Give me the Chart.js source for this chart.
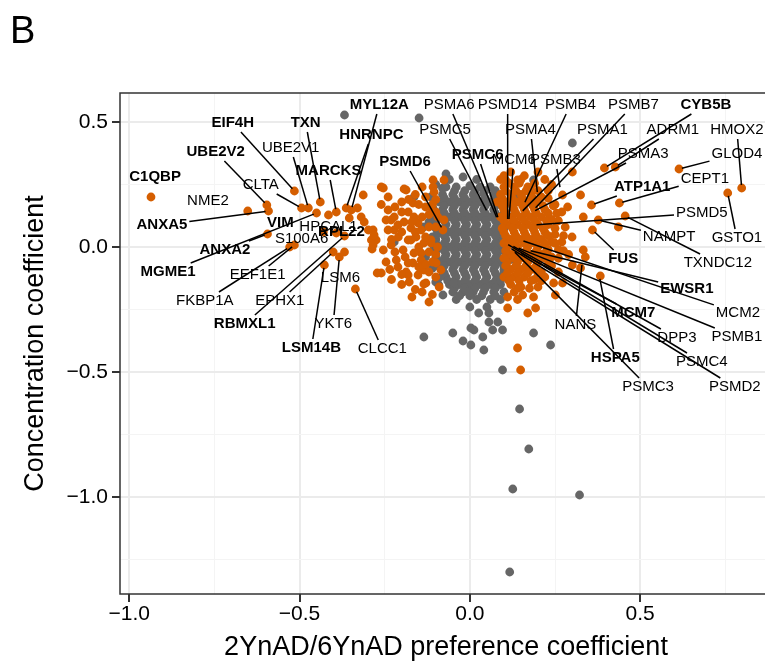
<!DOCTYPE html>
<html>
<head>
<meta charset="utf-8">
<script src="https://cdn.jsdelivr.net/npm/chart.js@4.4.0/dist/chart.umd.min.js"></script>
<style>
  html, body { margin: 0; padding: 0; background: #fff; overflow: hidden; }
  #wrap { position: relative; width: 765px; height: 666px; overflow: hidden; }
  #chart { position: absolute; left: 0; top: 0; width: 800px; height: 666px; }
</style>
</head>
<body>
<div id="wrap"><canvas id="chart" width="800" height="666"></canvas></div>
<script>
// ---------------------------
// Panel B — preference vs concentration scatter
// ---------------------------

const FONT = '"Liberation Sans", Arial, sans-serif';
const ORANGE = '#D55E00';
const GREY = '#666666';
const DOT = 4.4;

// axis ranges
const X_MIN = -1.027, X_MAX = 0.887;
const Y_MIN = -1.388, Y_MAX = 0.616;
const X_TITLE = '2YnAD/6YnAD preference coefficient';
const Y_TITLE = 'Concentration coefficient';

// grey points (not significant)
const greyOutliers = [
  [-0.368, 0.528], [-0.149, 0.516], [0.301, 0.416], [-0.07, 0.292], [-0.164, 0.2],
  [-0.222, 0.02], [-0.135, 0.08], [0.187, 0.268], [-0.12, 0.1], [-0.11, 0.04],
  [-0.13, -0.04], [-0.115, 0.2], [-0.1, 0.25], [0.1, 0.05], [0.12, -0.05], [0.14, 0.2], [0.13, 0.1],
  [-0.108, 0.155], [-0.112, 0.115], [-0.105, -0.005], [-0.11, -0.085], [-0.1, -0.14], [-0.08, 0.235]
];
const greyCore = [
  [-0.06, 0.27], [-0.02, 0.28], [0.02, 0.27],
  [-0.07, 0.24], [-0.04, 0.24], [0.0, 0.245], [0.03, 0.24], [0.06, 0.24],
  [-0.08, 0.21], [-0.05, 0.21], [-0.02, 0.21], [0.01, 0.21], [0.04, 0.215], [0.07, 0.21],
  [-0.09, 0.18], [-0.06, 0.18], [-0.03, 0.18], [0.0, 0.18], [0.03, 0.18], [0.06, 0.18], [0.09, 0.18],
  [-0.08, 0.15], [-0.05, 0.15], [-0.02, 0.15], [0.01, 0.15], [0.04, 0.15], [0.07, 0.15], [0.1, 0.15],
  [-0.09, 0.12], [-0.06, 0.12], [-0.03, 0.12], [0.0, 0.12], [0.03, 0.12], [0.06, 0.12], [0.09, 0.12],
  [-0.1, 0.09], [-0.07, 0.09], [-0.04, 0.09], [-0.01, 0.09], [0.02, 0.09], [0.05, 0.09], [0.08, 0.09], [0.1, 0.09],
  [-0.09, 0.06], [-0.06, 0.06], [-0.03, 0.06], [0.0, 0.06], [0.03, 0.06], [0.06, 0.06], [0.09, 0.06],
  [-0.1, 0.03], [-0.07, 0.03], [-0.04, 0.03], [-0.01, 0.03], [0.02, 0.03], [0.05, 0.03], [0.08, 0.03], [0.1, 0.03],
  [-0.09, 0.0], [-0.06, 0.0], [-0.03, 0.0], [0.0, 0.0], [0.03, 0.0], [0.06, 0.0], [0.09, 0.0],
  [-0.1, -0.03], [-0.07, -0.03], [-0.04, -0.03], [-0.01, -0.03], [0.02, -0.03], [0.05, -0.03], [0.08, -0.03], [0.11, -0.03],
  [-0.09, -0.06], [-0.06, -0.06], [-0.03, -0.06], [0.0, -0.06], [0.03, -0.06], [0.06, -0.06], [0.09, -0.06],
  [-0.08, -0.09], [-0.05, -0.09], [-0.02, -0.09], [0.01, -0.09], [0.04, -0.09], [0.07, -0.09], [0.1, -0.09],
  [-0.07, -0.12], [-0.04, -0.12], [-0.01, -0.12], [0.02, -0.12], [0.05, -0.12], [0.08, -0.12], [0.11, -0.12],
  [-0.06, -0.15], [-0.03, -0.15], [0.0, -0.15], [0.03, -0.15], [0.06, -0.15], [0.09, -0.15],
  [-0.05, -0.18], [-0.02, -0.18], [0.01, -0.18], [0.04, -0.18], [0.07, -0.18], [0.1, -0.18],
  [-0.04, -0.21], [0.02, -0.21], [0.06, -0.21], [0.09, -0.21],
  [0.0, -0.24], [0.05, -0.24]
];
const greyFill = [
  [-0.045, 0.225], [-0.015, 0.225], [0.015, 0.225], [0.045, 0.225], [0.075, 0.225],
  [-0.075, 0.195], [-0.045, 0.195], [-0.015, 0.195], [0.015, 0.195], [0.045, 0.195], [0.075, 0.195],
  [-0.075, 0.165], [-0.045, 0.165], [-0.015, 0.165], [0.015, 0.165], [0.045, 0.165], [0.075, 0.165], [0.095, 0.165],
  [-0.1, 0.135], [-0.075, 0.135], [-0.045, 0.135], [-0.015, 0.135], [0.015, 0.135], [0.045, 0.135], [0.075, 0.135], [0.1, 0.135],
  [-0.1, 0.105], [-0.075, 0.105], [-0.045, 0.105], [-0.015, 0.105], [0.015, 0.105], [0.045, 0.105], [0.075, 0.105], [0.1, 0.105],
  [-0.1, 0.075], [-0.075, 0.075], [-0.045, 0.075], [-0.015, 0.075], [0.015, 0.075], [0.045, 0.075], [0.075, 0.075], [0.1, 0.075],
  [-0.1, 0.045], [-0.075, 0.045], [-0.045, 0.045], [-0.015, 0.045], [0.015, 0.045], [0.045, 0.045], [0.075, 0.045], [0.1, 0.045],
  [-0.1, 0.015], [-0.075, 0.015], [-0.045, 0.015], [-0.015, 0.015], [0.015, 0.015], [0.045, 0.015], [0.075, 0.015], [0.1, 0.015],
  [-0.1, -0.015], [-0.075, -0.015], [-0.045, -0.015], [-0.015, -0.015], [0.015, -0.015], [0.045, -0.015], [0.075, -0.015], [0.1, -0.015],
  [-0.1, -0.045], [-0.075, -0.045], [-0.045, -0.045], [-0.015, -0.045], [0.015, -0.045], [0.045, -0.045], [0.075, -0.045], [0.1, -0.045],
  [-0.1, -0.075], [-0.075, -0.075], [-0.045, -0.075], [-0.015, -0.075], [0.015, -0.075], [0.045, -0.075], [0.075, -0.075], [0.1, -0.075],
  [-0.075, -0.105], [-0.045, -0.105], [-0.015, -0.105], [0.015, -0.105], [0.045, -0.105], [0.075, -0.105], [0.1, -0.105],
  [-0.065, -0.135], [-0.045, -0.135], [-0.015, -0.135], [0.015, -0.135], [0.045, -0.135], [0.075, -0.135], [0.09, -0.135],
  [-0.045, -0.165], [-0.015, -0.165], [0.015, -0.165], [0.045, -0.165], [0.075, -0.165],
  [-0.03, -0.195], [0.0, -0.195], [0.035, -0.195], [0.075, -0.195]
];
const greyTail = [
  [-0.079, -0.192], [-0.091, -0.152], [-0.091, -0.124], [-0.047, -0.144], [-0.003, -0.18],
  [0.026, -0.264], [0.056, -0.264], [0.056, -0.3], [0.082, -0.3], [0.003, -0.324], [0.012, -0.332],
  [0.067, -0.332], [0.096, -0.332], [-0.05, -0.344], [-0.02, -0.376], [0.003, -0.392], [0.041, -0.412],
  [0.038, -0.36], [-0.135, -0.36], [0.187, -0.344], [0.237, -0.392], [0.096, -0.492], [0.146, -0.648],
  [0.173, -0.808], [0.126, -0.968], [0.322, -0.992], [0.117, -1.3]
];

// orange points (significant)
const orangeFar = [
  [-0.936, 0.2], [-0.652, 0.144], [-0.596, 0.168], [-0.591, 0.144], [-0.594, 0.052],
  [-0.515, 0.224], [-0.494, 0.156], [-0.474, 0.156], [-0.439, 0.18], [-0.45, 0.136],
  [-0.415, 0.128], [-0.392, 0.14], [-0.363, 0.156], [-0.348, 0.148], [-0.33, 0.156],
  [-0.313, 0.208], [-0.354, 0.116], [-0.319, 0.12], [-0.31, 0.1], [-0.298, 0.068],
  [-0.284, 0.068], [-0.289, 0.028], [-0.275, 0.028], [-0.287, -0.008], [-0.515, 0.008],
  [-0.529, 0.0], [-0.401, -0.02], [-0.368, -0.02], [-0.383, -0.04], [-0.427, -0.072],
  [-0.392, 0.056], [-0.43, 0.06], [-0.368, 0.044], [-0.336, -0.168], [-0.281, 0.048], [-0.284, 0.008]
];
const orangeLeft = [
  [-0.26, 0.24], [-0.24, 0.148], [-0.231, 0.108], [-0.187, 0.228], [-0.108, 0.268], [-0.167, 0.176],
  [-0.164, 0.12], [-0.114, 0.16], [-0.094, 0.12], [-0.222, 0.068], [-0.173, 0.028], [-0.114, 0.016],
  [-0.143, -0.024], [-0.181, -0.064], [-0.135, -0.092], [-0.099, -0.064], [-0.076, 0.108],
  [-0.254, 0.236], [-0.193, 0.232], [-0.246, 0.108], [-0.24, 0.068], [-0.222, 0.12], [-0.211, 0.088],
  [-0.181, 0.14], [-0.193, 0.1], [-0.173, 0.076], [-0.152, 0.096], [-0.254, -0.012], [-0.231, 0.008],
  [-0.216, -0.052], [-0.196, -0.012], [-0.181, 0.028], [-0.164, -0.024], [-0.158, 0.04], [-0.143, 0.068],
  [-0.135, 0.016], [-0.114, 0.028], [-0.143, -0.052], [-0.167, -0.064], [-0.211, -0.08], [-0.181, -0.112],
  [-0.152, -0.112], [-0.129, -0.144], [-0.272, -0.104], [-0.108, 0.24], [-0.187, -0.1], [-0.178, -0.14],
  [-0.135, -0.148], [-0.085, -0.092], [-0.26, -0.104], [-0.246, -0.06], [-0.13, 0.2], [-0.15, 0.17],
  [-0.1, 0.19], [-0.12, 0.13], [-0.2, 0.18], [-0.21, 0.04], [-0.12, -0.02], [-0.1, -0.12],
  [-0.09, -0.16], [-0.11, -0.19], [-0.16, -0.17], [-0.2, -0.15], [-0.23, -0.13], [-0.12, 0.08],
  [-0.1, -0.03], [-0.13, -0.07], [-0.076, 0.268], [-0.079, 0.068],
  [-0.24, 0.2], [-0.22, 0.16], [-0.2, 0.14], [-0.18, 0.19], [-0.16, 0.21], [-0.14, 0.24], [-0.13, 0.16],
  [-0.11, 0.17], [-0.1, 0.14], [-0.14, 0.12], [-0.16, 0.06], [-0.2, 0.06], [-0.23, 0.03], [-0.19, -0.04],
  [-0.15, -0.08], [-0.12, -0.1], [-0.11, -0.06], [-0.095, 0.0], [-0.13, 0.04], [-0.15, 0.0], [-0.17, 0.1],
  [-0.26, 0.17], [-0.22, -0.02], [-0.235, -0.09], [-0.2, -0.11], [-0.17, -0.2], [-0.14, -0.18],
  [-0.12, -0.22], [-0.1, 0.08], [-0.105, 0.22]
];
const orangeRight = [
  [0.12, 0.3], [0.2, 0.3], [0.09, 0.27], [0.15, 0.27], [0.22, 0.27], [0.105, 0.268], [0.14, 0.268],
  [0.1, 0.24], [0.13, 0.24], [0.17, 0.24], [0.24, 0.25], [0.178, 0.236],
  [0.09, 0.21], [0.12, 0.21], [0.15, 0.21], [0.18, 0.21], [0.21, 0.2],
  [0.08, 0.18], [0.11, 0.18], [0.14, 0.18], [0.17, 0.18], [0.2, 0.18], [0.25, 0.17],
  [0.1, 0.15], [0.13, 0.15], [0.16, 0.15], [0.19, 0.15], [0.22, 0.15], [0.27, 0.14],
  [0.09, 0.12], [0.12, 0.12], [0.15, 0.12], [0.18, 0.12], [0.21, 0.12], [0.24, 0.11],
  [0.11, 0.09], [0.14, 0.09], [0.17, 0.09], [0.2, 0.09], [0.23, 0.09], [0.28, 0.08],
  [0.1, 0.06], [0.13, 0.06], [0.16, 0.06], [0.19, 0.06], [0.22, 0.06], [0.25, 0.05], [0.3, 0.04],
  [0.12, 0.03], [0.15, 0.03], [0.18, 0.03], [0.21, 0.03], [0.24, 0.02], [0.27, 0.02],
  [0.11, 0.0], [0.14, 0.0], [0.17, 0.0], [0.2, 0.0], [0.23, -0.01], [0.26, -0.01],
  [0.12, -0.03], [0.15, -0.03], [0.18, -0.03], [0.21, -0.03], [0.24, -0.04], [0.29, -0.03],
  [0.11, -0.06], [0.14, -0.06], [0.17, -0.06], [0.2, -0.06], [0.23, -0.07],
  [0.12, -0.09], [0.15, -0.09], [0.18, -0.09], [0.21, -0.1], [0.26, -0.1],
  [0.1, -0.12], [0.13, -0.12], [0.16, -0.12], [0.19, -0.13], [0.22, -0.12],
  [0.12, -0.15], [0.15, -0.16], [0.2, -0.16], [0.13, -0.18]
];
const orangeRightFill = [
  [0.1, 0.285], [0.16, 0.285],
  [0.115, 0.255], [0.145, 0.255], [0.19, 0.255],
  [0.105, 0.225], [0.135, 0.225], [0.165, 0.225], [0.2, 0.225], [0.23, 0.225],
  [0.095, 0.195], [0.125, 0.195], [0.155, 0.195], [0.185, 0.195], [0.23, 0.195],
  [0.095, 0.165], [0.125, 0.165], [0.155, 0.165], [0.185, 0.165], [0.215, 0.165], [0.245, 0.165],
  [0.105, 0.135], [0.135, 0.135], [0.165, 0.135], [0.195, 0.135], [0.23, 0.135], [0.255, 0.135],
  [0.1, 0.105], [0.13, 0.105], [0.16, 0.105], [0.19, 0.105], [0.225, 0.105], [0.26, 0.105],
  [0.095, 0.075], [0.125, 0.075], [0.155, 0.075], [0.185, 0.075], [0.215, 0.075], [0.25, 0.075],
  [0.105, 0.045], [0.135, 0.045], [0.165, 0.045], [0.195, 0.045], [0.23, 0.045], [0.275, 0.045],
  [0.1, 0.015], [0.13, 0.015], [0.16, 0.015], [0.19, 0.015], [0.22, 0.015], [0.25, 0.015],
  [0.105, -0.015], [0.135, -0.015], [0.165, -0.015], [0.195, -0.015], [0.225, -0.015], [0.275, -0.015],
  [0.1, -0.045], [0.13, -0.045], [0.16, -0.045], [0.19, -0.045], [0.22, -0.045], [0.26, -0.045],
  [0.105, -0.075], [0.135, -0.075], [0.165, -0.075], [0.195, -0.075], [0.24, -0.075],
  [0.11, -0.105], [0.14, -0.105], [0.17, -0.105], [0.2, -0.105],
  [0.115, -0.135], [0.145, -0.135], [0.18, -0.135], [0.21, -0.135],
  [0.14, -0.165], [0.175, -0.165], [0.14, -0.21]
];
const orangeRightSparse = [
  [0.301, 0.3], [0.272, 0.208], [0.325, 0.208], [0.287, 0.16], [0.333, 0.12], [0.377, 0.108],
  [0.36, 0.068], [0.436, 0.08], [0.456, 0.124], [0.439, 0.176], [0.357, 0.168], [0.395, 0.316],
  [0.427, 0.32], [0.614, 0.312], [0.757, 0.216], [0.798, 0.236], [0.333, -0.012], [0.339, -0.04],
  [0.301, -0.072], [0.325, -0.084], [0.383, -0.116], [0.246, -0.144], [0.272, -0.144], [0.251, -0.192],
  [0.187, -0.2], [0.155, -0.192], [0.111, -0.2], [0.17, -0.264], [0.193, -0.244], [0.111, -0.244],
  [0.14, -0.404], [0.149, -0.492]
];

// gene labels: text centre, and the point the leader line goes to (null = no line)
const labelNames = ['C1QBP', 'NME2', 'UBE2V2', 'EIF4H', 'ANXA5', 'CLTA', 'UBE2V1', 'TXN', 'MYL12A', 'HNRNPC',
  'MARCKS', 'VIM', 'HPCAL1', 'RPL22', 'S100A6', 'ANXA2', 'MGME1', 'EEF1E1', 'FKBP1A', 'EPHX1',
  'RBMXL1', 'LSM6', 'LSM14B', 'YKT6', 'CLCC1', 'PSMD6', 'PSMA6', 'PSMD14', 'PSMB4', 'PSMB7',
  'CYB5B', 'PSMC5', 'PSMA4', 'PSMA1', 'ADRM1', 'HMOX2', 'PSMC6', 'MCM6', 'PSMB3', 'PSMA3',
  'GLOD4', 'CEPT1', 'ATP1A1', 'PSMD5', 'NAMPT', 'GSTO1', 'FUS', 'TXNDC12', 'EWSR1', 'MCM2',
  'NANS', 'MCM7', 'DPP3', 'PSMB1', 'HSPA5', 'PSMC4', 'PSMC3', 'PSMD2'];
const labelBold = [1, 0, 1, 1, 1, 0, 0, 1, 1, 1,
  1, 1, 0, 1, 0, 1, 1, 0, 0, 0,
  1, 0, 1, 0, 0, 1, 0, 0, 0, 0,
  1, 0, 0, 0, 0, 0, 1, 0, 0, 0,
  0, 0, 1, 0, 0, 0, 1, 0, 1, 0,
  0, 1, 0, 0, 1, 0, 0, 0];
const labelX = [-0.924, -0.769, -0.746, -0.696, -0.904, -0.614, -0.526, -0.482, -0.266, -0.289,
  -0.415, -0.556, -0.415, -0.377, -0.494, -0.719, -0.886, -0.623, -0.778, -0.558,
  -0.661, -0.38, -0.465, -0.401, -0.257, -0.19, -0.061, 0.111, 0.295, 0.48,
  0.693, -0.073, 0.178, 0.389, 0.596, 0.784, 0.023, 0.129, 0.251, 0.509,
  0.784, 0.69, 0.506, 0.681, 0.585, 0.784, 0.45, 0.728, 0.637, 0.787,
  0.31, 0.48, 0.608, 0.784, 0.427, 0.681, 0.523, 0.778];
const labelY = [0.28, 0.184, 0.38, 0.496, 0.088, 0.248, 0.396, 0.496, 0.568, 0.448,
  0.304, 0.096, 0.08, 0.06, 0.032, -0.012, -0.1, -0.112, -0.216, -0.216,
  -0.308, -0.124, -0.404, -0.308, -0.408, 0.34, 0.568, 0.568, 0.568, 0.568,
  0.568, 0.468, 0.468, 0.468, 0.468, 0.468, 0.368, 0.348, 0.348, 0.372,
  0.372, 0.272, 0.24, 0.136, 0.04, 0.036, -0.048, -0.064, -0.168, -0.264,
  -0.312, -0.264, -0.364, -0.36, -0.444, -0.46, -0.56, -0.56];
const anchorX = [null, null, -0.596, -0.515, -0.591, -0.494, -0.474, -0.439, -0.348, -0.363,
  -0.392, null, null, null, null, -0.594, -0.45, -0.515, -0.529, -0.401,
  -0.368, null, -0.427, -0.383, -0.336, -0.079, 0.082, 0.111, 0.158, 0.187,
  0.395, 0.053, 0.199, 0.149, 0.427, 0.798, 0.085, 0.114, 0.266, 0.184,
  0.614, 0.439, 0.357, 0.187, 0.377, 0.757, 0.36, 0.456, 0.17, 0.149,
  0.33, 0.143, 0.12, 0.135, 0.38, 0.105, 0.126, 0.114];
const anchorY = [null, null, 0.168, 0.224, 0.144, 0.156, 0.156, 0.18, 0.148, 0.156,
  0.14, null, null, null, null, 0.052, 0.136, 0.008, 0.0, -0.02,
  0.044, null, -0.072, -0.04, -0.168, 0.068, 0.108, 0.1, 0.168, 0.148,
  0.316, 0.136, 0.208, 0.136, 0.32, 0.236, 0.108, 0.1, 0.228, 0.14,
  0.312, 0.176, 0.168, 0.088, 0.108, 0.216, 0.068, 0.124, -0.012, 0.028,
  -0.06, -0.02, 0.008, 0.0, -0.116, 0.016, -0.012, 0.0];

const toXY = arr => arr.map(p => ({ x: p[0], y: p[1] }));
const isMajor = v => Math.abs(v * 2 - Math.round(v * 2)) < 1e-6;
const fmt = v => (v < -1e-9 ? '\u2212' : '') + Math.abs(v).toFixed(1);

// frame, labels, panel letter
const extras = {
  id: 'extras',
  afterDatasetsDraw(chart) {
    const { ctx, chartArea: a, scales: { x: xs, y: ys } } = chart;
    ctx.save();
    const boxes = labelNames.map((name, i) => {
      ctx.font = (labelBold[i] ? 'bold ' : '') + '15px ' + FONT;
      return { w: ctx.measureText(name).width, cx: xs.getPixelForValue(labelX[i]), cy: ys.getPixelForValue(labelY[i]) };
    });
    // leader lines
    ctx.strokeStyle = '#000';
    ctx.lineWidth = 1.5;
    labelNames.forEach((name, i) => {
      if (anchorX[i] == null) return;
      const b = boxes[i];
      const px = xs.getPixelForValue(anchorX[i]), py = ys.getPixelForValue(anchorY[i]);
      const dx = px - b.cx, dy = py - b.cy;
      const hw = b.w / 2 + 2, hh = 9;
      const t = Math.min(dx ? hw / Math.abs(dx) : Infinity, dy ? hh / Math.abs(dy) : Infinity);
      if (t >= 1) return;
      const len = Math.hypot(dx, dy);
      const te = Math.max(t, 1 - 3 / len);
      ctx.beginPath();
      ctx.moveTo(b.cx + dx * t, b.cy + dy * t);
      ctx.lineTo(b.cx + dx * te, b.cy + dy * te);
      ctx.stroke();
    });
    // label text
    ctx.fillStyle = '#000';
    ctx.textAlign = 'center';
    ctx.textBaseline = 'middle';
    labelNames.forEach((name, i) => {
      ctx.font = (labelBold[i] ? 'bold ' : '') + '15px ' + FONT;
      ctx.fillText(name, boxes[i].cx, boxes[i].cy);
    });
    // panel border
    ctx.strokeStyle = '#333';
    ctx.lineWidth = 1.5;
    ctx.strokeRect(a.left, a.top, a.right - a.left, a.bottom - a.top);
    // panel letter
    ctx.font = '38px ' + FONT;
    ctx.textAlign = 'left';
    ctx.textBaseline = 'alphabetic';
    ctx.fillText('B', 10, 43);
    ctx.restore();
  }
};

const gridColor = c => (c.tick && isMajor(c.tick.value)) ? '#EBEBEB' : '#F4F4F4';
const gridWidth = c => (c.tick && isMajor(c.tick.value)) ? 2 : 1;
const tickColor = c => (c.tick && isMajor(c.tick.value)) ? '#333' : 'rgba(0,0,0,0)';

new Chart(document.getElementById('chart'), {
  type: 'scatter',
  data: {
    datasets: [
      { label: 'significant', data: toXY([...orangeFar, ...orangeLeft, ...orangeRight, ...orangeRightFill, ...orangeRightSparse]),
        backgroundColor: ORANGE, pointRadius: DOT, pointHoverRadius: DOT, borderWidth: 0, order: 0 },
      { label: 'other', data: toXY([...greyOutliers, ...greyCore, ...greyFill, ...greyTail]),
        backgroundColor: GREY, pointRadius: DOT, pointHoverRadius: DOT, borderWidth: 0, order: 1 }
    ]
  },
  options: {
    responsive: false,
    animation: false,
    events: [],
    layout: { autoPadding: false, padding: { left: 0, top: 93, right: 28, bottom: 0 } },
    plugins: { legend: { display: false }, tooltip: { enabled: false } },
    scales: {
      x: {
        type: 'linear', min: X_MIN, max: X_MAX,
        afterFit: s => { s.height = 72; },
        border: { display: false },
        grid: { color: gridColor, lineWidth: gridWidth, tickLength: 8, tickColor: tickColor, tickWidth: 2 },
        ticks: { stepSize: 0.25, includeBounds: false, autoSkip: false, maxRotation: 0, padding: 2,
          color: '#000', font: { family: FONT, size: 21, lineHeight: 1 },
          callback: v => isMajor(v) ? fmt(v) : '' },
        title: { display: true, text: X_TITLE, color: '#000', font: { family: FONT, size: 27, lineHeight: 1 },
          padding: { top: 0, bottom: 5 } }
      },
      y: {
        type: 'linear', min: Y_MIN, max: Y_MAX,
        afterFit: s => { s.width = 120; },
        border: { display: false },
        grid: { color: gridColor, lineWidth: gridWidth, tickLength: 8, tickColor: tickColor, tickWidth: 2 },
        ticks: { stepSize: 0.25, includeBounds: false, autoSkip: false, padding: 4,
          color: '#000', font: { family: FONT, size: 21, lineHeight: 1 },
          callback: v => isMajor(v) ? fmt(v) : '' },
        title: { display: true, text: Y_TITLE, color: '#000', font: { family: FONT, size: 27, lineHeight: 1 },
          padding: { top: 22, bottom: 0 } }
      }
    }
  },
  plugins: [extras]
});
</script>
</body>
</html>
